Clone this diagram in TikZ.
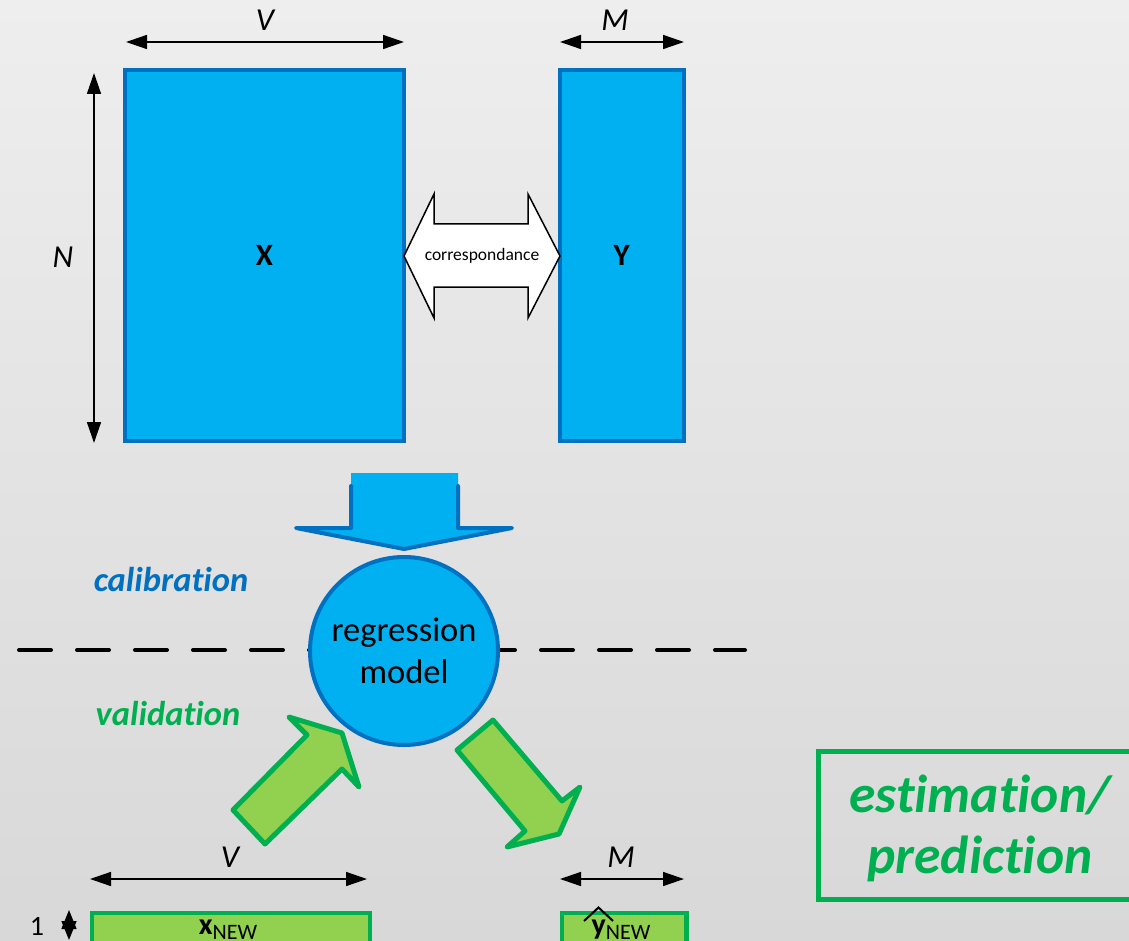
\documentclass[tikz,border=0pt]{standalone}
\usepackage{fontspec}
\setmainfont{Carlito}[Ligatures={NoCommon,NoRare,NoContextual}]
\usetikzlibrary{arrows.meta}
\definecolor{bgtop}{HTML}{EEEEEE}
\definecolor{bgbot}{HTML}{D8D8D8}
\definecolor{bfill}{HTML}{00B0F0}
\definecolor{bline}{HTML}{0070C0}
\definecolor{gfill}{HTML}{92D050}
\definecolor{gline}{HTML}{00B050}
\newcommand\setfs[2]{\fontsize{#1}{#2}\selectfont}
\begin{document}
\begin{tikzpicture}[x=1pt,y=-1pt,
  mat/.style={draw=bline, fill=bfill, line width=4pt, inner sep=0pt},
  dimline/.style={{Triangle[length=21pt,width=14pt]}-{Triangle[length=21pt,width=14pt]}, line width=1.5pt},
  smalldim/.style={{Triangle[length=19pt,width=15pt]}-{Triangle[length=19pt,width=15pt]}, line width=1.5pt},
  dimlabel/.style={font=\setfs{32}{38}\itshape, inner sep=0pt},
  bigarrow/.style={fill=bfill},
  bigarrowline/.style={draw=bline, line width=4pt, line join=round, line cap=round},
  garrow/.style={fill=gfill, draw=gline, line width=5pt, line join=round},
  gbox/.style={draw=gline, fill=gfill, line width=4.5pt, inner sep=0pt},
  phase/.style={font=\setfs{34.5}{40}\bfseries\itshape, inner sep=0pt},
]
\useasboundingbox (0,0) rectangle (1129,941);
\clip (0,0) rectangle (1129,941);
% background
\shade[top color=bgtop, bottom color=bgbot] (0,0) rectangle (1129,941);

% data matrices
\node[mat, minimum width=279pt, minimum height=371pt] (X) at (264.5,255.5) {\setfs{31}{36}\bfseries X};
\node[mat, minimum width=124.5pt, minimum height=371pt] (Y) at (621.75,255.5) {\setfs{31}{36}\bfseries Y};

% dimensions of X and Y
\coordinate (vl) at (126,42); \coordinate (vr) at (404,42);
\draw[dimline] (vl) -- (vr);
\node[dimlabel] (vtop) at (265,20.5) {V};
\coordinate (ml) at (560,42); \coordinate (mr) at (684,42);
\draw[dimline] (ml) -- (mr);
\node[dimlabel] (mtop) at (615,20.5) {M};
\coordinate (nt) at (94,73); \coordinate (nb) at (94,443);
\draw[dimline] (nt) -- (nb);
\node[dimlabel] (nlab) at (63,257.5) {N};

% correspondance double arrow
\draw[fill=white, line width=1.5pt, line join=miter]
  (404,256) -- (434,194) -- (434,224) -- (528,224) -- (528,194) -- (560,256)
  -- (528,318) -- (528,287) -- (434,287) -- (434,318) -- cycle;
\node[font=\setfs{17.5}{21}, inner sep=0pt] (corr) at (482,256) {correspondance};

% calibration arrow into the model
\path[bigarrow] (351,473) -- (458,473) -- (458,528) -- (512,528) -- (404,549)
  -- (296,528) -- (351,528) -- cycle;
\draw[bigarrowline] (351,486) -- (351,528) -- (296,528) -- (404,549)
  -- (512,528) -- (458,528) -- (458,486);

% separation between calibration and validation
\coordinate (dl) at (19,650); \coordinate (dr) at (745,650);
\draw[line width=4pt, line cap=round, dash pattern=on 32pt off 26pt] (dl) -- (dr);

% regression model
\node[circle, draw=bline, fill=bfill, line width=4pt, minimum size=188pt, inner sep=0pt,
  align=center, font=\setfs{34.5}{42}] (reg) at (404,651) {regression\\model};

\node[phase, text=bline] (calib) at (171,580) {calibration};
\node[phase, text=gline] (valid) at (168,714) {validation};

% validation arrows
\draw[garrow] (233,810) -- (307,735) -- (289,717) -- (342,733) -- (359,787)
  -- (342,769) -- (265,844) -- cycle;
\draw[garrow] (457,750) -- (493,720) -- (562,801) -- (580,787) -- (559,834)
  -- (507,847) -- (525,831) -- cycle;

% dimensions of new objects
\coordinate (bvl) at (90,879); \coordinate (bvr) at (367,879);
\draw[dimline] (bvl) -- (bvr);
\node[dimlabel] (vbot) at (230,857) {V};
\coordinate (bml) at (560,879); \coordinate (bmr) at (684,879);
\draw[dimline] (bml) -- (bmr);
\node[dimlabel] (mbot) at (621,857) {M};

% new observation and its prediction
\node[gbox, minimum width=278pt, minimum height=60pt, anchor=north west] (xbox) at (89.5,910.5) {};
\node[gbox, minimum width=124.5pt, minimum height=60pt, anchor=north west] (ybox) at (559.5,910.5) {};
\node[anchor=base, inner sep=0pt] (xnew) at (228,934)
  {{\setfs{30}{30}\bfseries x}\raisebox{-5pt}{\setfs{22}{22}NEW}};
\node[anchor=base, inner sep=0pt] (ynew) at (621,934)
  {{\setfs{30}{30}\bfseries y}\raisebox{-5pt}{\setfs{22}{22}NEW}};
\coordinate (hl) at (584,921); \coordinate (hp) at (598.5,907.5); \coordinate (hr) at (613,921);
\draw[line width=2pt] (hl) -- (hp) -- (hr);

\node[font=\setfs{28}{32}, inner sep=0pt] (one) at (37,926) {1};
\coordinate (st) at (69,910); \coordinate (sb) at (69,940);
\draw[smalldim] (st) -- (sb);

% estimation / prediction frame
\node[draw=gline, line width=5pt, minimum width=324pt, minimum height=148.5pt, inner sep=0pt]
  (estbox) at (980,825.25) {};
\node[align=center, inner sep=0pt, text=gline, font=\setfs{53.5}{61}\bfseries\itshape]
  (est) at (980,828) {estimation/\\prediction};
\end{tikzpicture}
\end{document}
